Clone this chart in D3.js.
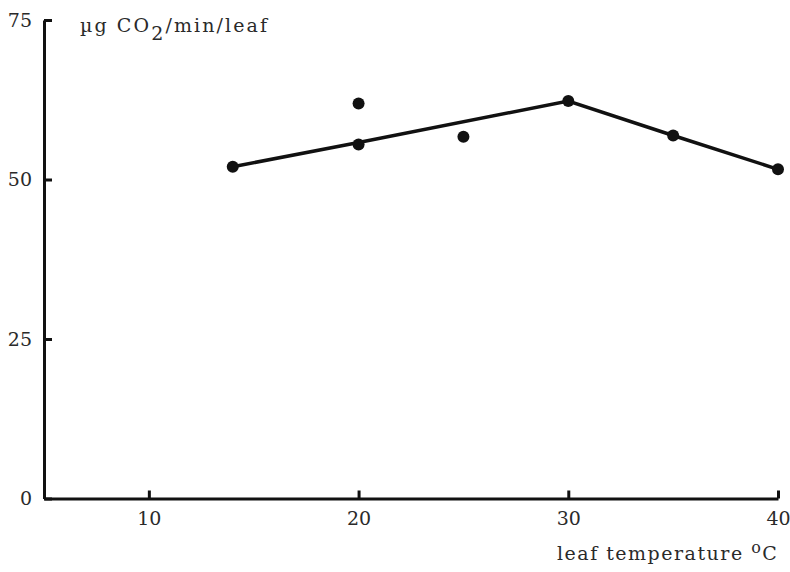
<!DOCTYPE html>
<html>
<head>
<meta charset="utf-8">
<script src="https://cdn.jsdelivr.net/npm/d3@7"></script>
<style>
  body { margin: 0; background: #fff; }
  text { font-family: "DejaVu Serif", serif; fill: #2a2a2a; }
</style>
</head>
<body>
<div id="chart"></div>
<script>
// measured points (leaf temperature, uptake)
var pointTemps = [14, 20, 20, 25, 30, 35, 40]
var pointValues = [52, 61.9, 55.5, 56.7, 62.3, 56.9, 51.6]

// the line drawn through the points
var lineTemps = [14, 20, 30, 35, 40]
var lineValues = [52, 55.8, 62.3, 56.9, 51.6]

var xTicks = [10, 20, 30, 40]
var yTicks = [0, 25, 50, 75]

var width = 790,
    height = 572

var svg = d3.select("#chart")
  .append("svg")
    .attr("width", width)
    .attr("height", height)

var x = d3.scaleLinear().domain([5, 40]).range([44, 778])
var y = d3.scaleLinear().domain([0, 75]).range([498.5, 20])

// y axis, ticks pointing inward
var yAxis = svg.append("g")
  .attr("transform", "translate(" + x(5) + ",0)")
  .call(d3.axisLeft(y).tickValues(yTicks).tickSizeInner(-8).tickSizeOuter(0).tickPadding(12))
yAxis.select(".domain").attr("stroke", "#111").attr("stroke-width", 3)
yAxis.selectAll(".tick line").attr("stroke", "#111").attr("stroke-width", 3)
yAxis.selectAll(".tick text").style("font-size", "19px")

// x axis
var xAxis = svg.append("g")
  .attr("transform", "translate(0," + y(0) + ")")
  .call(d3.axisBottom(x).tickValues(xTicks).tickSizeInner(-8).tickSizeOuter(0).tickPadding(13))
xAxis.select(".domain").attr("stroke", "#111").attr("stroke-width", 3)
xAxis.selectAll(".tick line").attr("stroke", "#111").attr("stroke-width", 3)
xAxis.selectAll(".tick text").style("font-size", "19px")

// axis titles
var yTitle = svg.append("text")
  .attr("x", 80)
  .attr("y", 32)
  .style("font-size", "19px")
  .style("letter-spacing", "2.1px")
yTitle.append("tspan").text("\u00b5g CO")
yTitle.append("tspan").attr("dy", 8).text("2")
yTitle.append("tspan").attr("dy", -8).text("/min/leaf")

var xTitle = svg.append("text")
  .attr("x", 557)
  .attr("y", 560)
  .style("font-size", "19px")
  .style("letter-spacing", "1.5px")
xTitle.append("tspan").text("leaf temperature ")
xTitle.append("tspan").attr("dy", -7).style("font-size", "16px").text("o")
xTitle.append("tspan").attr("dy", 7).text("C")

// line
var line = d3.line()
  .x(function(d) { return x(d[0]) })
  .y(function(d) { return y(d[1]) })

svg.append("path")
  .datum(d3.zip(lineTemps, lineValues))
  .attr("d", line)
  .attr("fill", "none")
  .attr("stroke", "#111")
  .attr("stroke-width", 3.5)

// points
svg.selectAll("circle")
  .data(d3.zip(pointTemps, pointValues))
  .enter()
  .append("circle")
    .attr("cx", function(d) { return x(d[0]) })
    .attr("cy", function(d) { return y(d[1]) })
    .attr("r", 6)
    .attr("fill", "#111")
</script>
</body>
</html>
